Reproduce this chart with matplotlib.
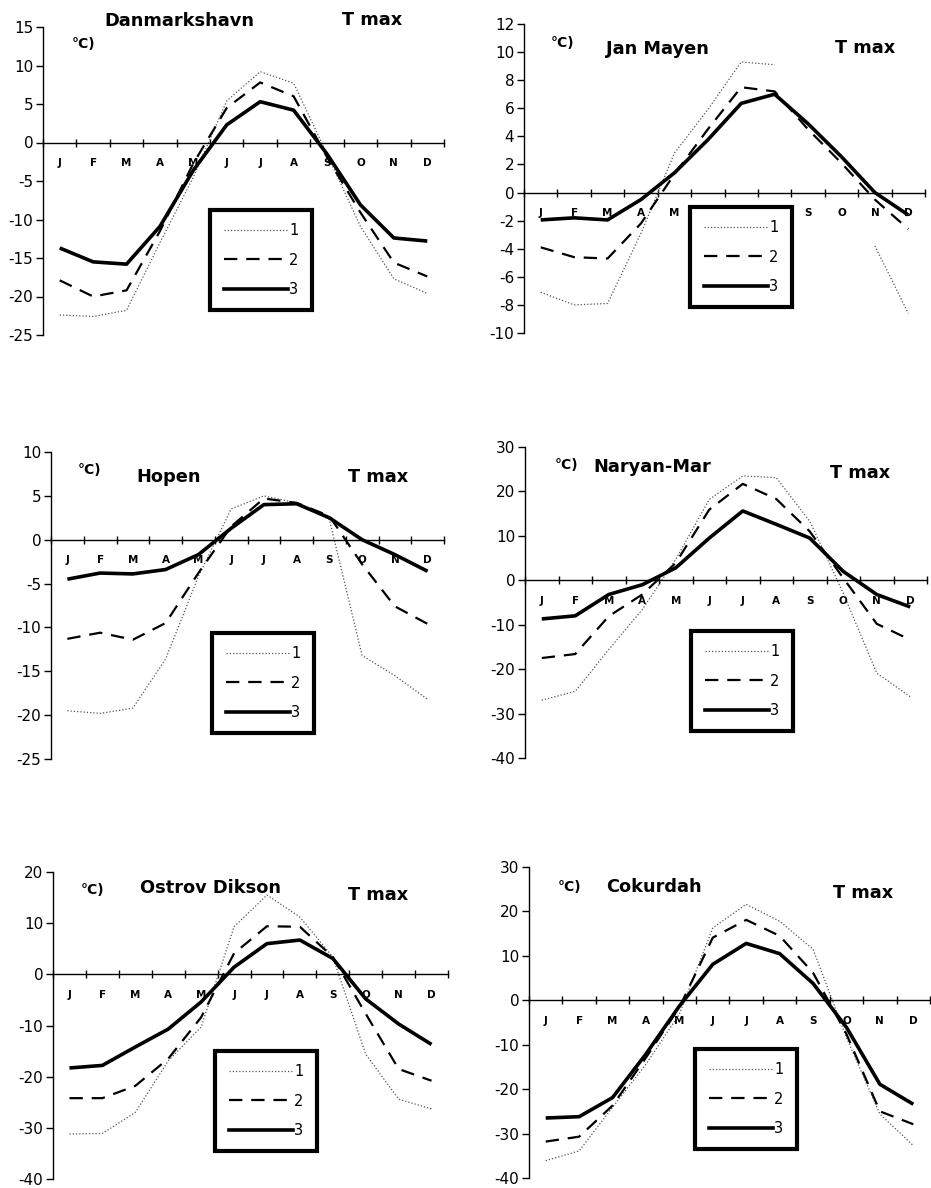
import numpy as np
import matplotlib
matplotlib.use("Agg")
import matplotlib.pyplot as plt
from matplotlib.lines import Line2D

plt.rcParams['font.family'] = ['DejaVu Sans']

months = ["J", "F", "M", "A", "M", "J", "J", "A", "S", "O", "N", "D"]
series_labels = ["1", "2", "3"]
nan = np.nan

# Danmarkshavn
dan_1 = [-22.4, -22.6, -21.8, -13.0, -4.5, 5.4, 9.2, 7.7, -1.5, -10.9, -17.7, -19.6]
dan_2 = [-17.9, -20.0, -19.2, -11.5, -2.7, 4.5, 7.8, 6.0, -1.9, -9.1, -15.6, -17.4]
dan_3 = [-13.7, -15.5, -15.8, -10.9, -3.6, 2.3, 5.3, 4.2, -1.5, -8.1, -12.4, -12.8]
# Jan Mayen
jan_1 = [-7.1, -8.0, -7.9, -2.9, 2.8, 5.9, 9.3, 9.1, nan, nan, -3.8, -8.6]
jan_2 = [-3.9, -4.6, -4.7, -2.2, 1.3, 4.5, 7.5, 7.2, 4.5, 2.1, -0.5, -2.6]
jan_3 = [-1.95, -1.8, -1.95, -0.5, 1.4, 3.75, 6.35, 7.0, 4.9, 2.55, 0.0, -1.6]
# Hopen
hop_1 = [-19.5, -19.8, -19.2, -13.6, -4.2, 3.5, 5.0, 4.2, 2.3, -13.2, -15.5, -18.2]
hop_2 = [-11.3, -10.6, -11.4, -9.5, -3.8, 1.5, 4.7, 4.2, 2.7, -2.8, -7.6, -9.6]
hop_3 = [-4.5, -3.8, -3.9, -3.4, -1.7, 1.3, 4.0, 4.1, 2.5, 0.0, -1.7, -3.6]
# Naryan-Mar
nar_1 = [-27.0, -25.0, -15.6, -6.6, 4.7, 18.2, 23.5, 23.1, 13.3, -2.9, -20.9, -26.2]
nar_2 = [-17.5, -16.6, -8.1, -3.2, 3.9, 15.9, 21.7, 18.3, 11.0, 0.5, -9.8, -13.4]
nar_3 = [-8.7, -8.0, -3.2, -1.0, 2.8, 9.5, 15.6, 12.6, 9.5, 2.0, -3.2, -6.0]
# Ostrov Dikson
dik_1 = [-31.2, -31.1, -27.0, -16.9, -10.3, 9.3, 15.5, 11.2, 3.4, -15.6, -24.4, -26.3]
dik_2 = [-24.2, -24.2, -21.8, -16.5, -8.4, 4.1, 9.4, 9.3, 3.4, -7.7, -18.5, -20.8]
dik_3 = [-18.3, -17.8, -14.2, -10.7, -5.4, 1.4, 6.0, 6.7, 3.1, -4.8, -9.7, -13.7]
# Cokurdah
cok_1 = [-36.1, -33.9, -24.1, -14.4, -3.1, 16.3, 21.6, 17.8, 11.5, -8.4, -25.6, -32.7]
cok_2 = [-31.8, -30.7, -23.7, -12.9, -1.6, 14.1, 18.1, 14.5, 6.2, -7.6, -25.0, -27.9]
cok_3 = [-26.5, -26.2, -21.9, -12.1, -1.3, 8.1, 12.8, 10.5, 3.8, -6.1, -18.9, -23.4]

W, H = 931, 1188
fig = plt.figure(figsize=(W / 100, H / 100), dpi=100)
fig.patch.set_facecolor("white")

panels = [
    dict(name="Danmarkshavn", data=(dan_1, dan_2, dan_3), ylim=(-25, 15), step=5,
         box=(43, 444, 27, 335), unit=(84, 44), title=(179, 21), tmax=(372, 20),
         leg=(261, 260)),
    dict(name="Jan Mayen", data=(jan_1, jan_2, jan_3), ylim=(-10, 12), step=2,
         box=(524, 925, 24, 333), unit=(563, 43), title=(657, 49), tmax=(865, 48),
         leg=(741, 257)),
    dict(name="Hopen", data=(hop_1, hop_2, hop_3), ylim=(-25, 10), step=5,
         box=(51, 444, 452, 759), unit=(90, 470), title=(169, 477), tmax=(378, 477),
         leg=(263, 683)),
    dict(name="Naryan-Mar", data=(nar_1, nar_2, nar_3), ylim=(-40, 30), step=10,
         box=(525, 927, 447, 758), unit=(567, 465), title=(652, 467), tmax=(860, 473),
         leg=(742, 681)),
    dict(name="Ostrov Dikson", data=(dik_1, dik_2, dik_3), ylim=(-40, 20), step=10,
         box=(53, 448, 872, 1179), unit=(93, 890), title=(211, 888), tmax=(378, 895),
         leg=(266, 1101)),
    dict(name="Cokurdah", data=(cok_1, cok_2, cok_3), ylim=(-40, 30), step=10,
         box=(529, 930, 867, 1178), unit=(570, 887), title=(654, 887), tmax=(863, 893),
         leg=(746, 1099)),
]

styles = [
    dict(color="#555555", lw=0.9, linestyle=(0, (1, 1.6))),
    dict(color="black", lw=1.6, linestyle=(0, (6, 4))),
    dict(color="black", lw=2.6, linestyle="-"),
]

x = np.arange(1, 13)
for p in panels:
    l, r, t, b = p["box"]
    ax = fig.add_axes([l / W, 1 - b / H, (r - l) / W, (b - t) / H])
    ax.set_xlim(0.5, 12.5)
    ax.set_ylim(*p["ylim"])
    for vals, st in zip(p["data"], styles):
        ax.plot(x, vals, solid_capstyle="butt", **st)
    ax.spines["top"].set_visible(False)
    ax.spines["right"].set_visible(False)
    ax.spines["bottom"].set_position(("data", 0))
    ax.spines["left"].set_linewidth(1.0)
    ax.spines["bottom"].set_linewidth(1.0)
    yt = np.arange(p["ylim"][0], p["ylim"][1] + 0.1, p["step"])
    ax.set_yticks(yt)
    ax.set_yticklabels([f"{int(v)}" for v in yt])
    ax.tick_params(axis="y", direction="out", length=5, width=1, labelsize=11, pad=2)
    ax.set_xticks(np.arange(0.5, 13, 1))
    ax.set_xticklabels([])
    ax.set_xticks(x, minor=True)
    ax.set_xticklabels(months, minor=True)
    ax.tick_params(axis="x", which="major", direction="inout", length=6, width=1)
    ax.tick_params(axis="x", which="minor", length=0, labelsize=7.5, pad=11)
    for lab in ax.get_xticklabels(minor=True):
        lab.set_fontweight("bold")
    ax.patch.set_alpha(0)

    fig.text(p["unit"][0] / W, 1 - p["unit"][1] / H, "°C)", fontsize=10,
             fontweight="bold", ha="center", va="center")
    fig.text(p["title"][0] / W, 1 - p["title"][1] / H, p["name"], fontsize=12.8,
             fontweight="bold", ha="center", va="center")
    fig.text(p["tmax"][0] / W, 1 - p["tmax"][1] / H, "T max", fontsize=12.8,
             fontweight="bold", ha="center", va="center")

    handles = [Line2D([], [], **st) for st in styles]
    leg = ax.legend(handles, series_labels, loc="center",
                    bbox_to_anchor=(p["leg"][0] / W, 1 - p["leg"][1] / H),
                    bbox_transform=fig.transFigure, fontsize=10.5,
                    handlelength=4.4, handletextpad=0.1, labelspacing=1.0,
                    borderpad=0.9, borderaxespad=0, fancybox=False,
                    framealpha=1, edgecolor="black")
    leg.get_frame().set_linewidth(3)

fig.savefig("out.png", dpi=100, facecolor="white")
